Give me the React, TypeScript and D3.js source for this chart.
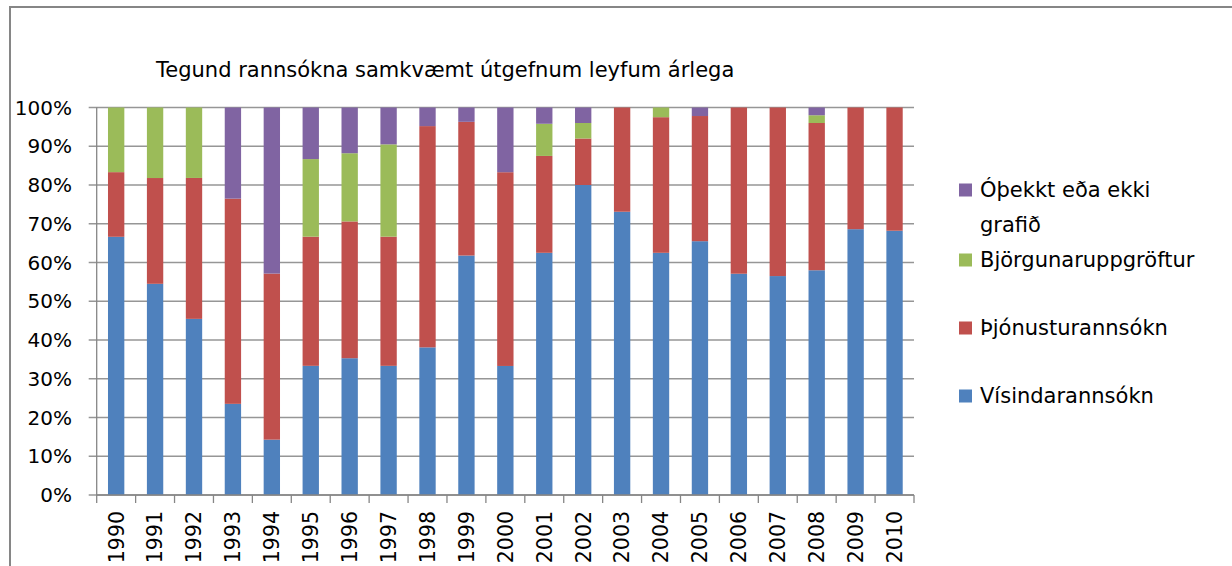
import * as d3 from 'd3';

const years = ['1990', '1991', '1992', '1993', '1994', '1995', '1996', '1997', '1998', '1999', '2000',
  '2001', '2002', '2003', '2004', '2005', '2006', '2007', '2008', '2009', '2010'];

// percentages per year
const visindarannsokn = [66.7, 54.5, 45.5, 23.5, 14.3, 33.3, 35.3, 33.3, 38.1, 61.8, 33.3, 62.5, 80.0, 73.1, 62.5, 65.5, 57.1, 56.5, 58.0, 68.6, 68.2];
const thjonusturannsokn = [16.7, 27.3, 36.4, 52.9, 42.9, 33.3, 35.3, 33.3, 57.1, 34.5, 50.0, 25.0, 12.0, 26.9, 35.0, 32.3, 42.9, 43.5, 38.0, 31.4, 31.8];
const bjorgun = [16.7, 18.2, 18.2, 0, 0, 20.0, 17.6, 23.8, 0, 0, 0, 8.3, 4.0, 0, 2.5, 0, 0, 0, 2.0, 0, 0];
const othekkt = [0, 0, 0, 23.5, 42.9, 13.3, 11.8, 9.5, 4.8, 3.7, 16.7, 4.2, 4.0, 0, 0, 2.2, 0, 0, 2.0, 0, 0];

const seriesKeys = ['vis', 'thj', 'bjo', 'oth'];
const seriesColors = ['#4F81BD', '#C0504D', '#9BBB59', '#8064A2'];
const yTicks = [0, 0.1, 0.2, 0.3, 0.4, 0.5, 0.6, 0.7, 0.8, 0.9, 1];

const W = 1232;
const H = 566;
const plot = { left: 96.7, right: 914, top: 107.5, bottom: 495 };
const font = '"DejaVu Sans", sans-serif';

export default function App() {
  const rows = years.map((y, i) => ({
    year: y,
    vis: visindarannsokn[i],
    thj: thjonusturannsokn[i],
    bjo: bjorgun[i],
    oth: othekkt[i],
  }));
  const stacked = d3.stack<any>().keys(seriesKeys).offset(d3.stackOffsetExpand)(rows);

  const x = d3.scaleBand<string>().domain(years).range([plot.left, plot.right])
    .paddingInner(0.58).paddingOuter(0.29);
  const step = x.step();
  const y = d3.scaleLinear().domain([0, 1]).range([plot.bottom, plot.top]);

  const legend = [
    { lines: ['Óþekkt eða ekki', 'grafið'], color: seriesColors[3], cy: 190 },
    { lines: ['Björgunaruppgröftur'], color: seriesColors[2], cy: 260 },
    { lines: ['Þjónusturannsókn'], color: seriesColors[1], cy: 328 },
    { lines: ['Vísindarannsókn'], color: seriesColors[0], cy: 396 },
  ];

  return (
    <svg width={W} height={H} style={{ position: 'absolute', left: 0, top: 0, background: '#fff' }}>
      <rect x={10} y={7} width={W} height={H} fill="#fff" stroke="#868686" strokeWidth={2} />
      <text x={156} y={77} fontFamily={font} fontSize={21} fill="#000">
        Tegund rannsókna samkvæmt útgefnum leyfum árlega
      </text>

      {/* gridlines + y labels */}
      {yTicks.map((t) => (
        <g key={t}>
          <line x1={plot.left - 8} x2={plot.right} y1={y(t)} y2={y(t)} stroke="#969696" strokeWidth={1.3} />
          <text x={72} y={y(t)} dy="0.36em" textAnchor="end" fontFamily={font} fontSize={20} fill="#000">
            {d3.format('.0%')(t)}
          </text>
        </g>
      ))}

      {/* bars */}
      {stacked.map((s, si) => (
        <g key={s.key} fill={seriesColors[si]}>
          {s.map((d, i) => (
            <rect
              key={i}
              x={x(years[i])}
              width={x.bandwidth()}
              y={y(d[1])}
              height={Math.max(0, y(d[0]) - y(d[1]))}
            />
          ))}
        </g>
      ))}

      {/* axes */}
      <line x1={plot.left} x2={plot.left} y1={plot.top} y2={plot.bottom} stroke="#868686" strokeWidth={1.3} />
      <line x1={plot.left} x2={plot.right} y1={plot.bottom} y2={plot.bottom} stroke="#868686" strokeWidth={1.3} />
      {years.concat(['end']).map((yr, i) => (
        <line key={yr} x1={plot.left + i * step} x2={plot.left + i * step} y1={plot.bottom} y2={plot.bottom + 8}
          stroke="#868686" strokeWidth={1.3} />
      ))}
      {years.map((yr) => (
        <text
          key={yr}
          transform={`translate(${(x(yr) as number) + x.bandwidth() / 2},511) rotate(-90)`}
          dy="0.36em"
          textAnchor="end"
          fontFamily={font}
          fontSize={20.5}
          fill="#000"
        >
          {yr}
        </text>
      ))}

      {/* legend */}
      {legend.map((l) => (
        <g key={l.lines[0]}>
          <rect x={959} y={l.cy - 6.5} width={13} height={13} fill={l.color} />
          {l.lines.map((ln, j) => (
            <text key={j} x={980} y={l.cy + 7 + j * 35} fontFamily={font} fontSize={21} fill="#000">
              {ln}
            </text>
          ))}
        </g>
      ))}
    </svg>
  );
}
